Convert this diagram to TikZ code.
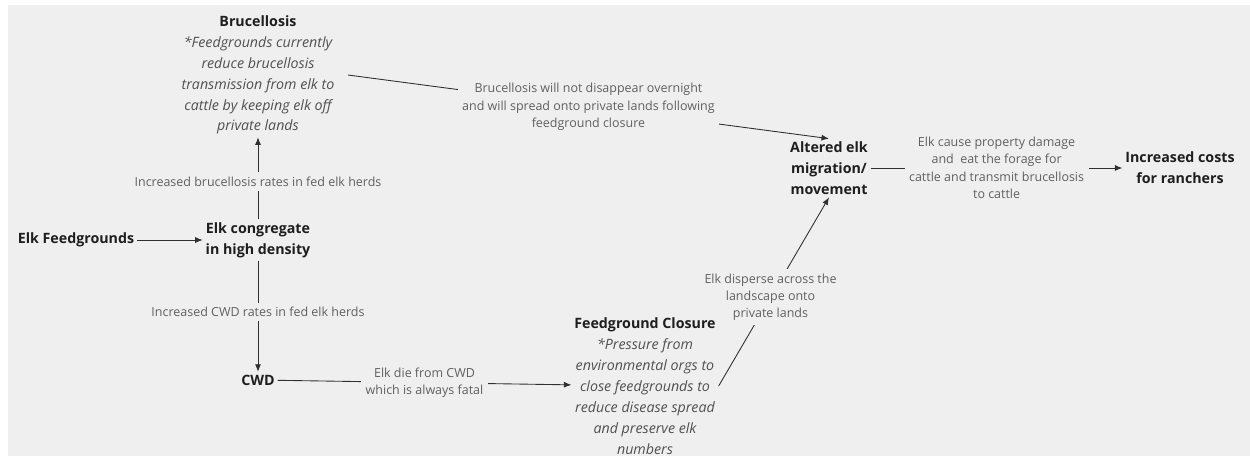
\documentclass[tikz,border=0pt]{standalone}
\usepackage{fontspec}
\setmainfont{Open Sans}
\usepackage{xcolor}
\definecolor{canvas}{HTML}{EFEFEF}
\definecolor{ink}{HTML}{1E1E1E}
\definecolor{note}{HTML}{505050}
\definecolor{muted}{HTML}{606060}
\definecolor{wire}{HTML}{303030}
\usetikzlibrary{arrows.meta,positioning,backgrounds}

\begin{document}
\begin{tikzpicture}[
    x=0.02cm, y=-0.02cm,
    >=Latex,
    every node/.style={align=center, inner sep=1.5pt},
    topic/.style={font=\fontsize{8.1}{11.9}\selectfont\bfseries, text=ink},
    topic_note/.style={font=\fontsize{8.1}{11.9}\selectfont\itshape, text=note},
    via/.style={font=\fontsize{7.1}{9.9}\selectfont, text=muted, fill=canvas, inner sep=2.5pt},
    link/.style={wire, line width=0.5pt},
    flow/.style={link, -{Latex[length=1.5mm, width=1.2mm]}}
]
  \useasboundingbox (0,0) rectangle (1250,456);

  % Disease chain
  \node[topic] (feedgrounds) at (76,240) {Elk Feedgrounds};
  \node[topic] (congregate) at (258,240) {Elk congregate\\in high density};
  \node[topic_note] (brucellosis) at (258,75) {{\upshape\bfseries\color{ink}Brucellosis}\\*Feedgrounds currently\\reduce brucellosis\\transmission from elk to\\cattle by keeping elk off\\private lands};
  \node[topic] (cwd) at (258,380) {CWD};

  % Closure and consequences
  \node[topic_note] (closure) at (645,386) {{\upshape\bfseries\color{ink}Feedground Closure}\\*Pressure from\\environmental orgs to\\close feedgrounds to\\reduce disease spread\\and preserve elk\\numbers};
  \node[topic] (migration) at (829,168) {Altered elk\\migration/\\movement};
  \node[topic] (costs) at (1180,168) {Increased costs\\for ranchers};

  % Connecting flows (behind the text)
  \begin{scope}[on background layer]
    \fill[canvas] (8,5) rectangle (1250,456);
    \draw[flow] (feedgrounds) -- (congregate);
    \draw[flow] (congregate) -- node[via, pos=0.46]{Increased brucellosis rates in fed elk herds} (brucellosis);
    \draw[flow] (congregate) -- node[via, pos=0.46]{Increased CWD rates in fed elk herds} (cwd);
    \draw[flow] (cwd) -- node[via]{Elk die from CWD\\which is always fatal} (closure);
    \draw[flow] ([xshift=6pt]brucellosis.east) -- node[via]{Brucellosis will not disappear overnight\\and will spread onto private lands following\\feedground closure} (migration.north);
    \draw[flow] (closure.east) -- node[via, pos=0.47]{Elk disperse across the\\landscape onto\\private lands} (migration.south);
    \draw[flow] (migration.east) -- node[via]{Elk cause property damage\\and\ \ eat the forage for\\cattle and transmit brucellosis\\to cattle} (costs);
  \end{scope}

\end{tikzpicture}
\end{document}
